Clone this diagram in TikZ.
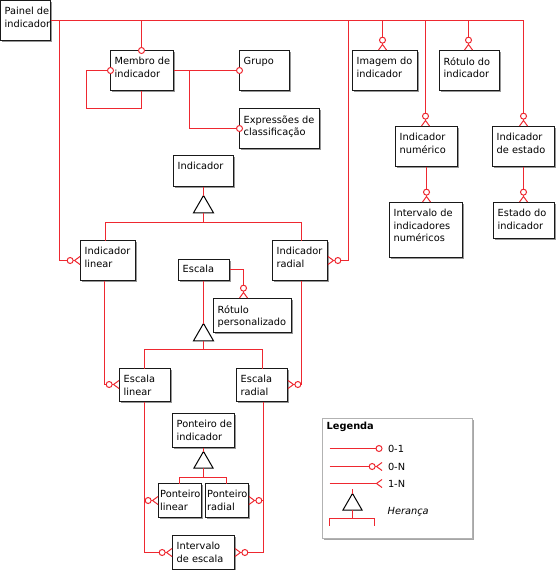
\documentclass[tikz,border=0pt]{standalone}
\usepackage{fontspec}
\setmainfont{DejaVu Sans}
\usetikzlibrary{positioning,shapes.geometric,shadows,arrows.meta}

\definecolor{relred}{RGB}{238,40,48}
\definecolor{boxgray}{RGB}{150,150,150}

\tikzset{
  ent/.style={draw=black!90, line width=1pt, fill=white, anchor=north west,
    inner sep=0pt, outer sep=0pt,
    drop shadow={shadow xshift=1pt, shadow yshift=-1pt, fill=boxgray, opacity=1}},
  lbl/.style={anchor=north west, align=left, inner xsep=4pt, inner ysep=6.8pt,
    font=\fontsize{9.8}{12.2}\selectfont},
  rel/.style={draw=relred, line width=1pt},
  zo/.style={-{Circle[open,length=7pt,width=7pt,fill=white]}, shorten >=-3.5pt},
  zn/.style={-{Circle[open,length=7pt,width=7pt,fill=white] Straight Barb[reversed,length=5.5pt,width=8pt]}},
  on/.style={-{Straight Barb[reversed,length=5.5pt,width=8pt]}},
  tri/.style={regular polygon, regular polygon sides=3, draw=black, line width=1pt,
    fill=white, minimum size=23pt, inner sep=0pt, outer sep=0pt, anchor=north},
  legtxt/.style={anchor=west, inner sep=0pt, font=\fontsize{9.8}{12}\selectfont}
}

\begin{document}
\begin{tikzpicture}[x=1pt,y=-1pt]
\useasboundingbox (0,0) rectangle (556,570);
\begin{scope}[shift={(0.5,0.5)}]

% entidades
\node[ent, minimum width=50, minimum height=40,
  label={[lbl]north west:Painel de\\indicador}] (painel) at (0,0) {};
\node[ent, minimum width=63, minimum height=40,
  label={[lbl]north west:Membro de\\indicador}] (membro) at (110,50) {};
\node[ent, minimum width=50, minimum height=40,
  label={[lbl]north west:Grupo}] (grupo) at (239,50) {};
\node[ent, minimum width=80, minimum height=40,
  label={[lbl]north west:Expressões de\\classificação}] (expr) at (239,108) {};
\node[ent, minimum width=65, minimum height=40,
  label={[lbl]north west:Imagem do\\indicador}] (imagem) at (352,50) {};
\node[ent, minimum width=60, minimum height=40,
  label={[lbl]north west:Rótulo do\\indicador}] (rotulo) at (439,50) {};
\node[ent, minimum width=62, minimum height=40,
  label={[lbl]north west:Indicador\\numérico}] (indnum) at (395,126) {};
\node[ent, minimum width=62, minimum height=40,
  label={[lbl]north west:Indicador\\de estado}] (indest) at (492,126) {};
\node[ent, minimum width=73, minimum height=55,
  label={[lbl]north west:Intervalo de\\indicadores\\numéricos}] (intnum) at (389,202) {};
\node[ent, minimum width=61, minimum height=36,
  label={[lbl]north west:Estado do\\indicador}] (estado) at (493,202) {};
\node[ent, minimum width=60, minimum height=31,
  label={[lbl]north west:Indicador}] (indicador) at (173,155) {};
\node[ent, minimum width=55, minimum height=40,
  label={[lbl]north west:Indicador\\linear}] (indlin) at (80,240) {};
\node[ent, minimum width=55, minimum height=40,
  label={[lbl]north west:Indicador\\radial}] (indrad) at (272,240) {};
\node[ent, minimum width=51, minimum height=21,
  label={[lbl,inner ysep=5pt]north west:Escala}] (escala) at (178,259) {};
\node[ent, minimum width=78, minimum height=34,
  label={[lbl]north west:Rótulo\\personalizado}] (rotpers) at (213,298) {};
\node[ent, minimum width=51, minimum height=33,
  label={[lbl]north west:Escala\\linear}] (esclin) at (119,368) {};
\node[ent, minimum width=51, minimum height=33,
  label={[lbl]north west:Escala\\radial}] (escrad) at (236,368) {};
\node[ent, minimum width=62, minimum height=34,
  label={[lbl]north west:Ponteiro de\\indicador}] (ponteiro) at (172,413) {};
\node[ent, minimum width=43, minimum height=34,
  label={[lbl,inner xsep=1.5pt]north west:Ponteiro\\linear}] (ptlin) at (158,483) {};
\node[ent, minimum width=43, minimum height=34,
  label={[lbl,inner xsep=1.5pt]north west:Ponteiro\\radial}] (ptrad) at (205,483) {};
\node[ent, minimum width=62, minimum height=34,
  label={[lbl]north west:Intervalo\\de escala}] (intesc) at (172,535) {};

% barramento do painel
\draw[rel] (painel.east) -- (painel.east -| indest.north);
\draw[rel,zo] (painel.east -| 141,0) -- (141,0 |- membro.north);
\draw[rel,zn] (painel.east -| 382,0) -- (382,0 |- imagem.north);
\draw[rel,zn] (painel.east -| 468,0) -- (468,0 |- rotulo.north);
\draw[rel,zn] (painel.east -| 425,0) -- (425,0 |- indnum.north);
\draw[rel,zn] (painel.east -| indest.north) -- (indest.north);
\draw[rel,zn] (painel.east -| 59,0) |- (indlin.west);
\draw[rel,zn] (painel.east -| 348,0) |- (indrad.east);

% membro de indicador
\draw[rel,zo] (141,0 |- membro.south) |- (86,108) |- (membro.west);
\draw[rel,zo] (membro.east) -- (grupo.west);
\draw[rel,zo] (membro.east -| 189,0) |- (expr.west);

% indicadores numerico / estado
\draw[rel,zn] (indnum.south) -- (indnum.south |- intnum.north);
\draw[rel,zn] (indest.south) -- (indest.south |- estado.north);

% heranca de indicador
\node[tri] (herind) at (203,195) {};
\draw[rel] (indicador.south) -- (herind.north);
\draw[rel] (herind.south) -- (203,222) -| (105,0 |- indlin.north);
\draw[rel] (203,222) -| (301,0 |- indrad.north);

% escala
\draw[rel,zn] (escala.east |- 0,269) -| (243,0 |- rotpers.north);
\node[tri] (heresc) at (203,323) {};
\draw[rel] (203,0 |- escala.south) -- (heresc.north);
\draw[rel] (heresc.south) -- (203,349) -| (144,0 |- esclin.north);
\draw[rel] (203,349) -| (262,0 |- escrad.north);
\draw[rel,zn] (104,0 |- indlin.south) |- (esclin.west |- 0,384);
\draw[rel,zn] (301,0 |- indrad.south) |- (escrad.east |- 0,384);

% ponteiros
\node[tri, minimum size=22pt] (herpont) at (203,451) {};
\draw[rel] (ponteiro.south) -- (herpont.north);
\draw[rel] (herpont.south) -- (203,477) -| (179,0 |- ptlin.north);
\draw[rel] (203,477) -| (226,0 |- ptrad.north);
\draw[rel,zn] (144,0 |- esclin.south) |- (intesc.west);
\draw[rel,zn] (144,0 |- ptlin.west) -- (ptlin.west);
\draw[rel,zn] (263,0 |- escrad.south) |- (intesc.east);
\draw[rel,zn] (263,0 |- ptrad.east) -- (ptrad.east);

% legenda
\node[draw=black!30, line width=1pt, fill=white, anchor=north west, minimum width=150,
  minimum height=120, inner sep=0pt,
  drop shadow={shadow xshift=2pt, shadow yshift=-2pt, fill=black!35, opacity=1}] (legenda) at (321,417) {};
\node[anchor=north west, inner sep=0pt, font=\fontsize{9.8}{12}\bfseries] (legtit) at (326,421) {Legenda};
\coordinate (l1) at (329,448);
\coordinate (l2) at (329,466);
\coordinate (l3) at (329,483);
\draw[rel,-{Circle[open,length=7pt,width=7pt,fill=white]}] (l1) -- ++(53,0) node[legtxt, right=5pt] (t01) {0-1};
\draw[rel,zn] (l2) -- ++(53,0) node[legtxt, right=5pt] (t0n) {0-N};
\draw[rel,on] (l3) -- ++(53,0) node[legtxt, right=5pt] (t1n) {1-N};
\node[tri, minimum size=22pt] (legtri) at (352,493) {};
\draw[rel] (legtri.north) -- ++(0,-5);
\draw[rel] (legtri.south) -- (352,518);
\draw[rel] (329,525) -- (329,518) -- (374,518) -- (374,525);
\node[legtxt, font=\fontsize{9.8}{12}\itshape] (legher) at (387,511) {Herança};
\end{scope}
\end{tikzpicture}
\end{document}
